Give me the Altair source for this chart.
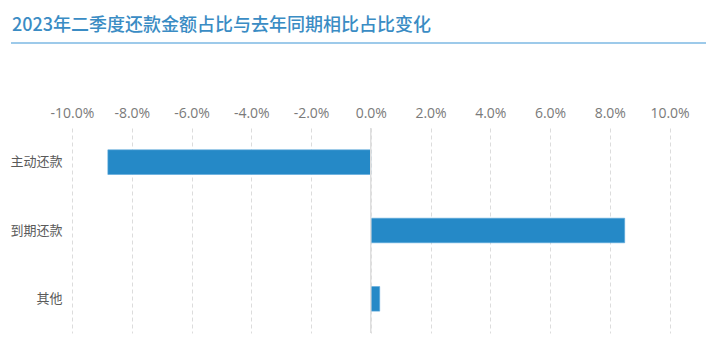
import altair as alt
import pandas as pd

title_text = "2023年二季度还款金额占比与去年同期相比占比变化"
categories = ["主动还款", "到期还款", "其他"]
values_pct = [-8.8, 8.5, 0.3]
tick_values = [-0.10, -0.08, -0.06, -0.04, -0.02, 0.0, 0.02, 0.04, 0.06, 0.08, 0.10]

df = pd.DataFrame({"cat": categories, "val": [v / 100 for v in values_pct]})
zero_df = pd.DataFrame({"z": [0.0]})
title_df = pd.DataFrame({"t": [title_text]})

x_scale = alt.Scale(domain=[-0.1, 0.1], nice=False, zero=False)

bars = alt.Chart(df).mark_bar(color="#2589c7", stroke="#5aa8dc", strokeWidth=0.6).encode(
    x=alt.X(
        "val:Q",
        scale=x_scale,
        axis=alt.Axis(
            orient="top",
            values=tick_values,
            labelExpr="replace(format(datum.value, '.1%'), '\u2212', '-')",
            title=None,
            ticks=False,
            tickSize=0,
            domain=False,
            grid=True,
            gridDash=[4, 3],
            gridColor="#dcdcdc",
            gridWidth=1,
            labelOverlap=False,
            labelFlush=False,
            labelFont="Open Sans",
            labelFontSize=14,
            labelColor="#7a7a7a",
            labelPadding=8,
        ),
    ),
    y=alt.Y(
        "cat:N",
        sort=categories,
        scale=alt.Scale(paddingInner=0.64, paddingOuter=0.32),
        axis=alt.Axis(
            title=None,
            ticks=False,
            tickSize=0,
            domain=False,
            grid=False,
            labelFont="Noto Sans CJK SC",
            labelFontSize=13,
            labelColor="#5a5a5a",
            labelPadding=10,
        ),
    ),
)

zero_line = alt.Chart(zero_df).mark_rule(color="#dedede", strokeWidth=1.5).encode(
    x=alt.X("z:Q", scale=x_scale)
)

title_mark = alt.Chart(title_df).mark_text(
    align="left",
    baseline="middle",
    font="Noto Sans CJK SC",
    fontSize=18,
    fontWeight=500,
    color="#3a8cc4",
).encode(text="t:N", x=alt.value(-60), y=alt.value(-102))

title_line = alt.Chart(title_df).mark_rule(color="#7db9e3", strokeWidth=1.5).encode(
    x=alt.value(-61), x2=alt.value(634), y=alt.value(-85)
)

chart = (
    alt.layer(bars, zero_line, title_mark, title_line)
    .properties(
        width=597.5,
        height=205,
        autosize=alt.AutoSizeParams(type="none"),
        padding={"left": 72, "top": 128, "right": 50, "bottom": 27},
        background="white",
    )
    .configure_view(stroke=None)
)

chart.save("out.html", embed_options={"renderer": "svg", "actions": False})
